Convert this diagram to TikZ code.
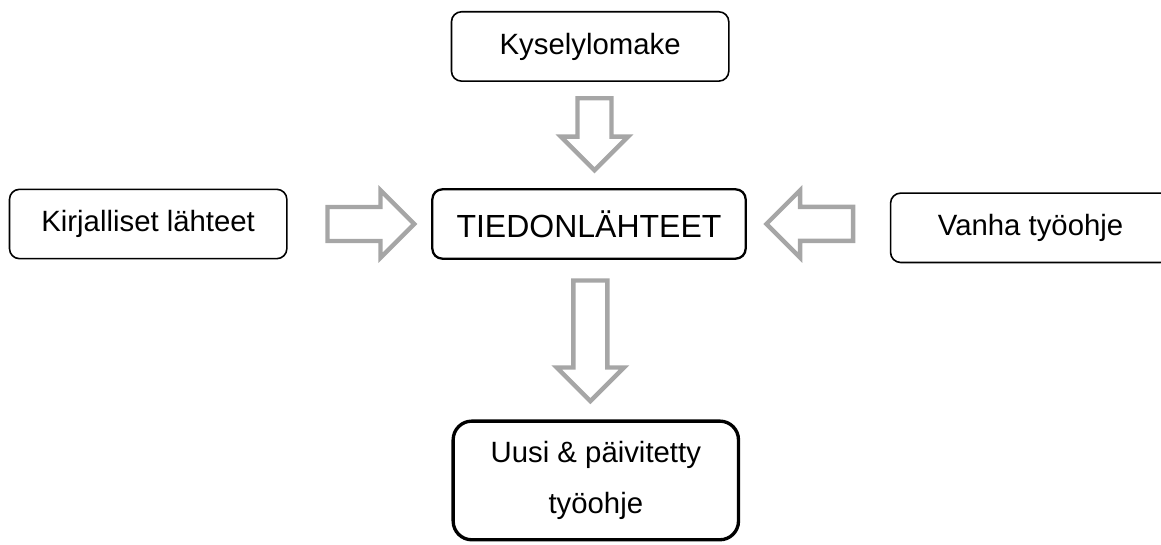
\documentclass[tikz,border=0pt]{standalone}
\usepackage{fontspec}
\setmainfont{Liberation Sans}
\usetikzlibrary{positioning, shapes.arrows, calc}
\tikzstyle{source} = [rectangle, rounded corners=7.5pt, minimum width=208pt, minimum height=52pt, text centered, draw=black, line width=1.2pt, font=\fontsize{22}{26}\selectfont]
\tikzstyle{hub} = [source, minimum width=235pt, line width=1.7pt, font=\fontsize{24}{28}\selectfont]
\tikzstyle{result} = [source, rounded corners=14pt, minimum width=214pt, minimum height=89pt, line width=2.5pt, align=center, font=\fontsize{22}{38}\selectfont]
\tikzstyle{bigarrow} = [single arrow, draw=black!35, line width=3.3pt, inner sep=11.1pt, single arrow head extend=12.5pt]

\begin{document}
\begin{tikzpicture}[x=0.75pt, y=-0.75pt, node distance=4.68cm]
    \useasboundingbox (0,0) rectangle (1161,545);
    %laatikot
    \node (tieto) [hub] at (589,224) {TIEDONLÄHTEET};
    \node (kysely) [source, above of = tieto, xshift = 0.03cm] {Kyselylomake};
    \node (kirja) [source, left of = tieto, xshift = -6.94cm] {Kirjalliset lähteet};
    \node (vanha) [source, minimum width = 210pt, right of = tieto, xshift = 6.96cm, yshift = -0.1cm] {Vanha työohje};
    \node (uusi) [result, below of = tieto, yshift = -2.08cm, xshift = 0.18cm] {Uusi \& päivitetty\\ työohje};

    %nuolet
    \node (n1) [bigarrow, shape border rotate = 270, minimum height = 54pt, xshift = 3.7pt, yshift = 7pt] at ($(kysely.south)!0.5!(tieto.north)$) {};
    \node (n2) [bigarrow, minimum height = 65pt, xshift = 2.2pt] at ($(kirja.east)!0.5!(tieto.west)$) {};
    \node (n3) [bigarrow, shape border rotate = 180, minimum height = 65pt, yshift = 1.5pt] at ($(tieto.east)!0.5!(vanha.west)$) {};
    \node (n4) [bigarrow, shape border rotate = 270, minimum height = 90.5pt, xshift = -1.5pt, yshift = 5.5pt] at ($(tieto.south)!0.5!(uusi.north)$) {};
\end{tikzpicture}
\end{document}
